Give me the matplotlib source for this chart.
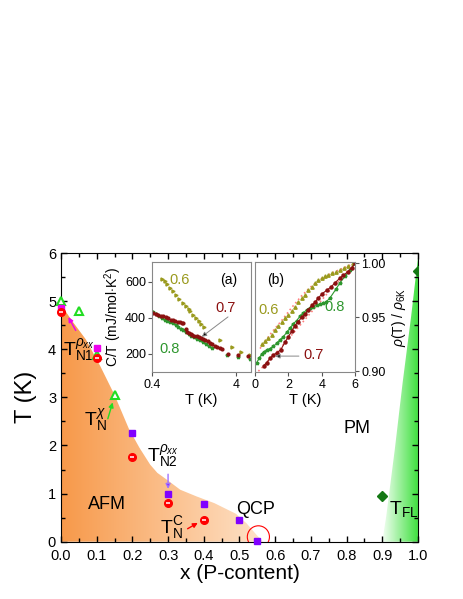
import numpy as np
import matplotlib
matplotlib.use('Agg')
import matplotlib.pyplot as plt
from matplotlib.patches import Polygon, Ellipse
from matplotlib.colors import LinearSegmentedColormap
from matplotlib.ticker import MultipleLocator, FixedLocator, NullLocator, FixedFormatter

plt.rcParams['font.family'] = ['Liberation Sans', 'DejaVu Sans']
plt.rcParams['mathtext.fontset'] = 'custom'
plt.rcParams['mathtext.rm'] = 'Liberation Sans'
plt.rcParams['mathtext.it'] = 'Liberation Sans:italic'
plt.rcParams['mathtext.bf'] = 'Liberation Sans:bold'

# ---------------- main phase diagram data ----------------
afm_x = [0, 0.03, 0.07, 0.11, 0.15, 0.19, 0.22, 0.25, 0.27, 0.30, 0.334, 0.38, 0.43, 0.49, 0.52, 0.548, 0.566]
afm_T = [4.93, 4.6, 4.2, 3.65, 3.05, 2.35, 1.95, 1.6, 1.43, 1.27, 1.08, 0.94, 0.8, 0.58, 0.38, 0.14, 0.0]
fl_x = [0.9, 0.911, 0.935, 0.957, 0.981, 1.0]
fl_T = [0.0, 0.52, 1.91, 3.3, 4.69, 5.9]

rho1_x = [0.0, 0.1]
rho1_T = [4.85, 4.02]
chi_x = [0.0, 0.05, 0.1, 0.15]
chi_T = [5.0, 4.8, 3.88, 3.05]
c_x = [0.0, 0.1, 0.2, 0.3, 0.4]
c_T = [4.78, 3.82, 1.77, 0.8, 0.46]
rho2_x = [0.2, 0.3, 0.4, 0.5, 0.55]
rho2_T = [2.25, 1.0, 0.79, 0.46, 0.02]
tfl_x = [0.9, 1.0]
tfl_T = [0.95, 5.63]

# ---------------- inset (a): C/T ----------------
a06_T = [0.52, 0.56, 0.60, 0.65, 0.71, 0.77, 0.84, 0.92, 1.0, 1.08, 1.13, 1.22, 1.32, 1.42, 1.52, 1.63, 2.58, 3.56, 4.6, 5.86]
a06_C = [619, 604, 588, 568, 547, 528, 507, 485, 466, 447, 438, 418, 399, 381, 365, 349, 275, 237, 210, 191]
a07_T = [0.41, 0.44, 0.47, 0.51, 0.54, 0.58, 0.62, 0.66, 0.70, 0.75, 0.80, 0.85, 0.90, 0.94,
         1.0, 1.03, 1.08, 1.14, 1.2, 1.27, 1.35, 1.43, 1.52, 1.62, 1.72, 1.83, 1.95, 2.08, 2.22, 2.37, 2.55, 2.71,
         3.23, 4.25, 5.5]
a07_C = [425, 420, 415, 411, 408, 402, 396, 390, 385, 381, 377, 374, 371, 368,
         335, 321, 315, 309, 304, 299, 296, 293, 289, 283, 276, 268, 260, 252, 244, 237, 231, 226,
         200, 191, 185]
a08_T = [0.41, 0.44, 0.48, 0.52, 0.56, 0.60, 0.65, 0.70, 0.76, 0.82, 0.88, 0.94, 1.0, 1.08, 1.16, 1.25,
         1.35, 1.48, 1.6, 1.74, 1.88, 2.04, 3.1, 4.2, 5.9]
a08_C = [433, 420, 407, 396, 387, 382, 377, 368, 357, 346, 338, 330, 320, 308, 298, 290,
         283, 275, 265, 252, 240, 228, 191, 178, 172]

# ---------------- inset (b): rho(T)/rho_6K ----------------
b06_T = [0.42, 0.6, 0.8, 1.0, 1.2, 1.4, 1.6, 1.8, 2.0, 2.2, 2.4, 2.6, 2.8, 3.0, 3.2, 3.4, 3.6, 3.8,
         4.0, 4.2, 4.4, 4.6, 4.85, 5.1, 5.35, 5.6, 5.9]
b06_r = [0.925, 0.928, 0.931, 0.934, 0.938, 0.942, 0.946, 0.949, 0.952, 0.956, 0.960, 0.964, 0.968,
         0.971, 0.975, 0.978, 0.982, 0.985, 0.986, 0.988, 0.989, 0.991, 0.992, 0.994, 0.996, 0.998, 1.0]
b07_T = [0.52, 0.7, 0.9, 1.1, 1.3, 1.55, 1.8, 2.0, 2.2, 2.38, 2.6, 2.8, 3.0, 3.2, 3.4, 3.6, 3.8,
         4.04, 4.3, 4.55, 4.8, 5.07, 5.3, 5.55, 5.8, 6.0]
b07_r = [0.905, 0.908, 0.912, 0.915, 0.917, 0.920, 0.927, 0.932, 0.937, 0.942, 0.946, 0.950, 0.953,
         0.957, 0.961, 0.964, 0.968, 0.972, 0.975, 0.978, 0.982, 0.986, 0.989, 0.992, 0.996, 1.0]
b08_T = [0.1, 0.25, 0.4, 0.55, 0.73, 0.9, 1.1, 1.3, 1.5, 1.7, 1.9, 2.1, 2.3, 2.5, 2.7, 2.9, 3.1, 3.3,
         3.5, 3.7, 3.9, 4.1, 4.25, 4.5, 4.85, 5.1, 5.4, 5.7, 6.0]
b08_r = [0.908, 0.912, 0.916, 0.918, 0.920, 0.921, 0.923, 0.926, 0.929, 0.932, 0.936, 0.940, 0.944,
         0.947, 0.951, 0.954, 0.957, 0.959, 0.960, 0.961, 0.962, 0.963, 0.964, 0.968, 0.976, 0.982,
         0.988, 0.994, 1.0]
fit06_T = [0.3, 1.0, 1.6, 2.2, 2.8, 3.4, 4.0, 4.6, 5.2, 5.8]
fit06_r = [0.921, 0.936, 0.947, 0.959, 0.970, 0.979, 0.986, 0.991, 0.995, 0.999]
fit07_T = [0.2, 0.6, 1.0, 1.5, 2.0, 2.5, 3.0, 3.5, 4.0, 4.5, 5.0, 5.5, 6.0]
fit07_r = [0.900, 0.906, 0.913, 0.921, 0.930, 0.939, 0.948, 0.957, 0.966, 0.975, 0.983, 0.992, 1.0]

OLIVE = '#9a9a1e'
DRED = '#8b1010'
DGREEN = '#2e962e'

fig = plt.figure(figsize=(4.63, 5.99), dpi=100)
ax = fig.add_axes([0.1317, 0.0957, 0.771, 0.4819])

# gradient regions
grad = np.linspace(0, 1, 256).reshape(1, -1)
cm_or = LinearSegmentedColormap.from_list('or', [(0.97, 0.6, 0.29), (0.995, 0.89, 0.79)])
im1 = ax.imshow(grad, extent=[0, 0.57, 0, 6], aspect='auto', cmap=cm_or, origin='lower', zorder=0)
poly1 = Polygon(list(zip(afm_x, afm_T)) + [(0, 0)], closed=True, transform=ax.transData,
                facecolor='none', edgecolor='none')
ax.add_patch(poly1)
im1.set_clip_path(poly1)

cm_gr = LinearSegmentedColormap.from_list('gr', [(0.96, 1.0, 0.96), (0.25, 0.88, 0.25)])
im2 = ax.imshow(grad, extent=[0.9, 1.0, 0, 6], aspect='auto', cmap=cm_gr, origin='lower', zorder=0)
poly2 = Polygon(list(zip(fl_x, fl_T)) + [(1.0, 0)], closed=True, transform=ax.transData,
                facecolor='none', edgecolor='none')
ax.add_patch(poly2)
im2.set_clip_path(poly2)

ax.set_xlim(0, 1)
ax.set_ylim(0, 6)

# markers
ax.plot(chi_x, chi_T, ls='none', marker='^', ms=5.5, mfc='white', mec='#22dd22', mew=1.5, zorder=5, clip_on=False)
ax.plot(c_x, c_T, ls='none', marker='o', ms=5.5, mfc='red', mec='red', zorder=6, clip_on=False)
ax.plot(c_x, c_T, ls='none', marker='_', ms=3.2, mew=1.1, color='white', zorder=7, clip_on=False)
ax.plot(rho1_x, rho1_T, ls='none', marker='s', ms=5, color='#ee00ee', zorder=5, clip_on=False)
ax.plot(rho2_x, rho2_T, ls='none', marker='s', ms=5, color='#8000ff', zorder=5, clip_on=False)
ax.plot(tfl_x, tfl_T, ls='none', marker='D', ms=5, color='#137813', zorder=5)

ax.add_patch(Ellipse((0.553, 0.1), 0.062, 0.46, fill=False, ec='red', lw=0.8, zorder=8))

# labels & arrows
ax.text(0.05, 3.97, r'$\mathrm{T}^{\rho_{xx}}_{\mathrm{N1}}$', fontsize=14, ha='center', va='center')
ax.annotate('', xy=(0.017, 4.72), xytext=(0.045, 4.34),
            arrowprops=dict(arrowstyle='-|>', color='#ee00ee', lw=1.0, mutation_scale=7))
ax.text(0.096, 2.53, r'$\mathrm{T}^{\chi}_{\mathrm{N}}$', fontsize=14, ha='center', va='center')
ax.annotate('', xy=(0.147, 2.95), xytext=(0.129, 2.5),
            arrowprops=dict(arrowstyle='-|>', color='#22dd22', lw=1.0, mutation_scale=7))
ax.text(0.284, 1.78, r'$\mathrm{T}^{\rho_{xx}}_{\mathrm{N2}}$', fontsize=14, ha='center', va='center')
ax.annotate('', xy=(0.30, 1.04), xytext=(0.30, 1.46),
            arrowprops=dict(arrowstyle='-|>', color='#a070ff', fc='#8000ff', lw=1.0, mutation_scale=7))
ax.text(0.31, 0.29, r'$\mathrm{T}^{\mathrm{C}}_{\mathrm{N}}$', fontsize=14, ha='center', va='center')
ax.annotate('', xy=(0.39, 0.42), xytext=(0.348, 0.24),
            arrowprops=dict(arrowstyle='-|>', color='red', lw=1.0, mutation_scale=7))
ax.text(0.13, 0.78, 'AFM', fontsize=13, ha='center', va='center')
ax.text(0.546, 0.66, 'QCP', fontsize=13, ha='center', va='center')
ax.text(0.83, 2.35, 'PM', fontsize=13, ha='center', va='center')
ax.text(0.918, 0.68, r'$\mathrm{T}_{\mathrm{FL}}$', fontsize=14, ha='left', va='center')

ax.xaxis.set_major_locator(MultipleLocator(0.1))
ax.xaxis.set_minor_locator(MultipleLocator(0.05))
ax.yaxis.set_major_locator(MultipleLocator(1))
ax.yaxis.set_minor_locator(MultipleLocator(0.5))
ax.xaxis.set_major_formatter(matplotlib.ticker.FormatStrFormatter('%.1f'))
ax.tick_params(which='both', direction='in', top=True, right=True, labelsize=10.5, width=1.0)
ax.tick_params(axis='x', pad=5)
ax.tick_params(which='major', length=4)
ax.tick_params(which='minor', length=3)
ax.set_xlabel('x (P-content)', fontsize=15, labelpad=1)
ax.set_ylabel('T (K)', fontsize=17, labelpad=8)

# ---------------- inset (a) ----------------
axa = fig.add_axes([0.329, 0.3785, 0.2132, 0.1836])
axa.set_xscale('log')
axa.plot(a06_T, a06_C, ls='none', marker='>', ms=2.2, color=OLIVE)
axa.plot(a08_T, a08_C, ls='none', marker='*', ms=2.6, color=DGREEN)
axa.plot(a07_T, a07_C, ls='none', marker='o', ms=2.0, color=DRED)
axa.set_xlim(0.4, 6)
axa.set_ylim(95, 710)
axa.xaxis.set_major_locator(FixedLocator([0.4, 4]))
axa.xaxis.set_major_formatter(FixedFormatter(['0.4', '4']))
axa.xaxis.set_minor_locator(NullLocator())
axa.yaxis.set_major_locator(FixedLocator([200, 400, 600]))
axa.tick_params(which='both', direction='out', length=3, labelsize=9, pad=1.5, color='#555555')
for s in axa.spines.values():
    s.set_color('#888888')
axa.set_xlabel('T (K)', fontsize=10.5, labelpad=2)
axa.set_ylabel('C/T (mJ/mol$\\cdot$K$^2$)', fontsize=10, labelpad=1)
axa.text(0.834, 609, '0.6', color=OLIVE, fontsize=10.5, ha='center', va='center')
axa.text(3.02, 452, '0.7', color=DRED, fontsize=10.5, ha='center', va='center')
axa.text(0.636, 224, '0.8', color=DGREEN, fontsize=10.5, ha='center', va='center')
axa.text(3.23, 609, '(a)', fontsize=10, ha='center', va='center')
axa.annotate('', xy=(1.46, 284), xytext=(3.39, 414),
             arrowprops=dict(arrowstyle='-|>', ec='#888888', fc='black', lw=0.7, mutation_scale=7))

# ---------------- inset (b) ----------------
axb = fig.add_axes([0.5508, 0.3785, 0.216, 0.1836])
axb.plot(fit06_T, fit06_r, ls=':', lw=1.2, color='#ff8080')
axb.plot(fit07_T, fit07_r, ls=':', lw=1.2, color='#ff8080')
axb.plot(b06_T, b06_r, ls='none', marker='^', ms=2.4, color=OLIVE)
axb.plot(b08_T, b08_r, ls='-', lw=0.8, marker='*', ms=2.6, color=DGREEN)
axb.plot(b07_T, b07_r, ls='-', lw=0.8, marker='o', ms=2.2, color=DRED)
axb.set_xlim(0, 6)
axb.set_ylim(0.899, 1.001)
axb.xaxis.set_major_locator(FixedLocator([0, 2, 4, 6]))
axb.yaxis.set_major_locator(FixedLocator([0.90, 0.95, 1.00]))
axb.yaxis.set_major_formatter(matplotlib.ticker.FormatStrFormatter('%.2f'))
axb.yaxis.tick_right()
axb.yaxis.set_label_position('right')
axb.tick_params(which='both', direction='out', length=3, labelsize=9, pad=1.5, color='#555555')
for s in axb.spines.values():
    s.set_color('#888888')
axb.set_xlabel('T (K)', fontsize=10.5, labelpad=2)
axb.set_ylabel(r'$\rho$(T) / $\rho_{\mathrm{6K}}$', fontsize=10, labelpad=3)
axb.text(0.83, 0.957, '0.6', color=OLIVE, fontsize=10.5, ha='center', va='center')
axb.text(4.8, 0.960, '0.8', color=DGREEN, fontsize=10.5, ha='center', va='center')
axb.text(3.52, 0.915, '0.7', color=DRED, fontsize=10.5, ha='center', va='center')
axb.text(1.24, 0.9847, '(b)', fontsize=10, ha='center', va='center')
axb.annotate('', xy=(1.04, 0.914), xytext=(2.8, 0.914),
             arrowprops=dict(arrowstyle='-|>', ec='#888888', fc='black', lw=0.7, mutation_scale=7))

fig.savefig('out.png', dpi=100)
